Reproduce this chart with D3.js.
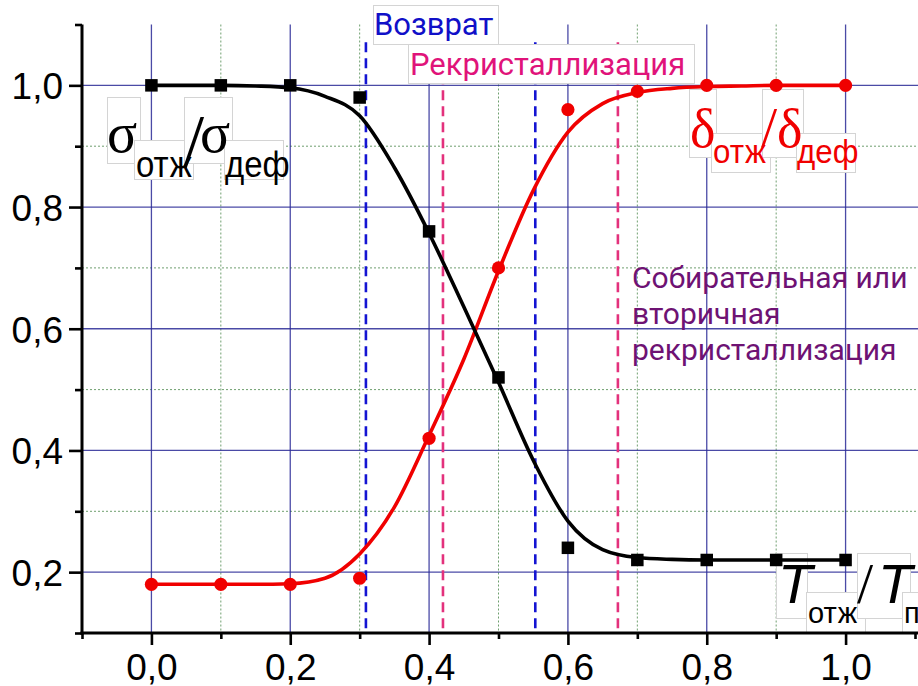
<!DOCTYPE html>
<html>
<head>
<meta charset="utf-8">
<script src="https://cdn.jsdelivr.net/npm/d3@7"></script>
<style>
  html, body { margin: 0; padding: 0; background: #fff; }
  svg { display: block; }
</style>
</head>
<body>
<svg id="chart" width="918" height="686"></svg>
<script>
// Relative annealing temperature T_отж/T_пл
const tempRatio = [0.0, 0.1, 0.2, 0.3, 0.4, 0.5, 0.6, 0.7, 0.8, 0.9, 1.0];
// Measured strength ratio σ_отж/σ_деф (squares)
const sigmaRatio = [1.00, 1.00, 1.00, 0.98, 0.76, 0.52, 0.24, 0.22, 0.22, 0.22, 0.22];
// Measured elongation ratio δ_отж/δ_деф (circles)
const deltaRatio = [0.18, 0.18, 0.18, 0.19, 0.42, 0.70, 0.96, 0.99, 1.00, 1.00, 1.00];

// Smooth fitted curves, sampled every 0.05
const fitX = [0.00, 0.05, 0.10, 0.15, 0.20, 0.25, 0.30, 0.35, 0.40, 0.45, 0.50,
              0.55, 0.60, 0.65, 0.70, 0.75, 0.80, 0.85, 0.90, 0.95, 1.00];
const sigmaFit = [1.000, 1.000, 1.000, 0.999, 0.996, 0.982, 0.950, 0.865, 0.757, 0.636, 0.512,
                  0.384, 0.284, 0.237, 0.224, 0.221, 0.220, 0.220, 0.220, 0.220, 0.220];
const deltaFit = [0.180, 0.180, 0.180, 0.180, 0.181, 0.190, 0.230, 0.307, 0.425, 0.550, 0.695,
                  0.827, 0.923, 0.970, 0.988, 0.995, 0.998, 0.999, 1.000, 1.000, 1.000];

// Boundaries of the annealing stages
const recoveryBounds = [0.309, 0.553];
const recrystBounds = [0.420, 0.672];

// Axis ticks
const xMajorTicks = [0.0, 0.2, 0.4, 0.6, 0.8, 1.0];
const xMinorTicks = [-0.1, 0.1, 0.3, 0.5, 0.7, 0.9, 1.1];
const xTickLabels = ["0,0", "0,2", "0,4", "0,6", "0,8", "1,0"];
const yMajorTicks = [0.2, 0.4, 0.6, 0.8, 1.0];
const yMinorTicks = [0.1, 0.3, 0.5, 0.7, 0.9, 1.1];
const yTickLabels = ["0,2", "0,4", "0,6", "0,8", "1,0"];

const svg = d3.select("#chart");
const x = d3.scaleLinear().domain([-0.1, 1.1]).range([82, 915]);
const y = d3.scaleLinear().domain([0.1, 1.1]).range([633, 24.5]);
const [x0, x1] = x.range();
const [y0, y1] = y.range();

const SANS = "'Liberation Sans', Arial, sans-serif";
const SERIF = "'Liberation Serif', 'Times New Roman', serif";
const ROBOTO = "Roboto, 'Liberation Sans', sans-serif";

// ---- grid ----
const grid = svg.append("g");
grid.selectAll(".vminor").data(xMinorTicks.filter(d => d > -0.1 && d < 1.1)).join("line")
  .attr("x1", d => x(d)).attr("x2", d => x(d)).attr("y1", y1).attr("y2", y0)
  .attr("stroke", "#6f9f6f").attr("stroke-width", 1).attr("stroke-dasharray", "2,2");
grid.selectAll(".hminor").data(yMinorTicks.filter(d => d > 0.1 && d < 1.1)).join("line")
  .attr("x1", x0).attr("x2", 918).attr("y1", d => y(d)).attr("y2", d => y(d))
  .attr("stroke", "#6f9f6f").attr("stroke-width", 1).attr("stroke-dasharray", "2,2");
grid.selectAll(".vmajor").data(xMajorTicks).join("line")
  .attr("x1", d => x(d)).attr("x2", d => x(d)).attr("y1", y1).attr("y2", y0)
  .attr("stroke", "#2a2a96").attr("stroke-width", 1.3).attr("stroke-opacity", 0.85);
grid.selectAll(".hmajor").data(yMajorTicks).join("line")
  .attr("x1", x0).attr("x2", 918).attr("y1", d => y(d)).attr("y2", d => y(d))
  .attr("stroke", "#2a2a96").attr("stroke-width", 1.3).attr("stroke-opacity", 0.85);

// ---- stage boundaries ----
const bounds = svg.append("g");
function stageLines(vals, color) {
  bounds.append("g").selectAll("line").data(vals).join("line")
    .attr("x1", d => x(d)).attr("x2", d => x(d))
    .attr("y1", y(1.071)).attr("y2", y0)
    .attr("stroke", color).attr("stroke-width", 2.6)
    .attr("stroke-dasharray", "10,6");
}
stageLines(recoveryBounds, "#1414d2");
stageLines(recrystBounds, "#e3317c");

// ---- label boxes (white patches with a faint frame) ----
const boxes = svg.append("g");
function box(xa, ya, xb, yb) {
  boxes.append("rect").attr("x", xa + 0.5).attr("y", ya + 0.5)
    .attr("width", xb - xa).attr("height", yb - ya)
    .attr("fill", "#fff").attr("stroke", "#d4d4d4").attr("stroke-width", 1);
}
// stage names
box(373, 5, 498, 44);
box(408, 44, 694, 83);
// σ label
box(107, 97, 140, 163); box(134, 140, 193, 179);
box(184, 97, 232, 163); box(224, 140, 283, 179);
// δ label
box(689, 89, 716, 157); box(711, 133, 770, 172);
box(762, 89, 803, 157); box(796, 133, 855, 172);
// T label
box(776, 553, 807, 618); box(806, 592, 865, 632);
box(857, 553, 910, 618); box(902, 592, 930, 632);

const labels = svg.append("g");
// Text at (px, py); sx narrows the glyphs horizontally
function txt(s, px, py, font, size, color, sx = 1, italic = false) {
  return labels.append("text")
    .attr("transform", `translate(${px},${py}) scale(${sx},1)`)
    .attr("font-family", font).attr("font-size", size).attr("fill", color)
    .attr("font-style", italic ? "italic" : "normal")
    .text(s);
}
txt("Возврат", 374, 35, ROBOTO, 31, "#1010c8");
txt("Рекристаллизация", 410, 75, ROBOTO, 31, "#e0137a");

txt("Собирательная или", 632, 288, ROBOTO, 30, "#6e1273");
txt("вторичная", 632, 324, ROBOTO, 30, "#6e1273");
txt("рекристаллизация", 632, 360, ROBOTO, 30, "#6e1273");

// σ_отж / σ_деф
txt("σ", 107, 152, SERIF, 56, "#000");
txt("отж", 136, 177, SANS, 37, "#000", 0.89);
txt("/", 183, 167, SERIF, 76, "#000");
txt("σ", 200, 152, SERIF, 56, "#000");
txt("деф", 225, 177, SANS, 37, "#000", 0.89);

// δ_отж / δ_деф
txt("δ", 690, 147, SERIF, 54, "#f00000");
txt("отж", 713, 163, SANS, 34, "#f00000", 0.92);
txt("/", 761, 147, SERIF, 58, "#f00000");
txt("δ", 777, 147, SERIF, 54, "#f00000");
txt("деф", 797, 163, SANS, 34, "#f00000", 0.92);

// T_отж / T_пл
txt("T", 778, 603, SANS, 56, "#000", 1, true);
txt("отж", 808, 623, SANS, 29, "#000");
txt("/", 857, 603, SERIF, 58, "#000");
txt("T", 878, 603, SANS, 56, "#000", 1, true);
txt("пл", 904, 623, SANS, 29, "#000");

// ---- curves and points ----
const line = d3.line().curve(d3.curveMonotoneX).x(d => x(d[0])).y(d => y(d[1]));
const series = svg.append("g");
series.append("path").datum(fitX.map((v, i) => [v, deltaFit[i]]))
  .attr("d", line).attr("fill", "none").attr("stroke", "#f00000").attr("stroke-width", 3.6);
series.append("path").datum(fitX.map((v, i) => [v, sigmaFit[i]]))
  .attr("d", line).attr("fill", "none").attr("stroke", "#000").attr("stroke-width", 3.6);

series.append("g").selectAll("circle").data(tempRatio.map((v, i) => [v, deltaRatio[i]])).join("circle")
  .attr("cx", d => x(d[0])).attr("cy", d => y(d[1])).attr("r", 6.6).attr("fill", "#f00000");
const sq = 12.5;
series.append("g").selectAll("rect").data(tempRatio.map((v, i) => [v, sigmaRatio[i]])).join("rect")
  .attr("x", d => x(d[0]) - sq / 2).attr("y", d => y(d[1]) - sq / 2)
  .attr("width", sq).attr("height", sq).attr("fill", "#000");

// ---- axes ----
const axes = svg.append("g");
const yAxisMajor = d3.axisLeft(y).tickValues(yMajorTicks).tickSize(13)
  .tickFormat((d, i) => yTickLabels[i]).tickPadding(6);
const yAxisMinor = d3.axisLeft(y).tickValues(yMinorTicks).tickSize(7).tickFormat("");
const xAxisMajor = d3.axisBottom(x).tickValues(xMajorTicks).tickSize(12)
  .tickFormat((d, i) => xTickLabels[i]).tickPadding(9);
const xAxisMinor = d3.axisBottom(x).tickValues(xMinorTicks).tickSize(6).tickFormat("");

function styleAxis(g) {
  g.select(".domain").remove();
  g.selectAll(".tick line").attr("stroke", "#000").attr("stroke-width", 2.6);
  g.selectAll(".tick text").attr("font-family", SANS).attr("font-size", 37).attr("fill", "#000");
}
axes.append("g").attr("transform", `translate(${x0},0)`).call(yAxisMinor).call(styleAxis);
axes.append("g").attr("transform", `translate(${x0},0)`).call(yAxisMajor).call(styleAxis)
  .selectAll(".tick text").attr("dy", "0.36em");
axes.append("g").attr("transform", `translate(0,${y0})`).call(xAxisMinor).call(styleAxis);
axes.append("g").attr("transform", `translate(0,${y0})`).call(xAxisMajor).call(styleAxis)
  .selectAll(".tick text").attr("dy", "0.71em");

axes.append("line").attr("x1", x0).attr("x2", x0).attr("y1", y1).attr("y2", y0 + 1.5)
  .attr("stroke", "#000").attr("stroke-width", 3);
axes.append("line").attr("x1", x0 - 1.5).attr("x2", 918).attr("y1", y0).attr("y2", y0)
  .attr("stroke", "#000").attr("stroke-width", 3);
</script>
</body>
</html>
